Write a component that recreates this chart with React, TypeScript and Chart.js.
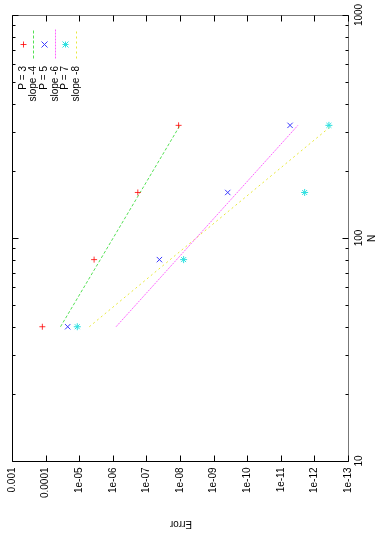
import React, { useEffect, useRef } from "react";
import { Chart, registerables } from "chart.js";

Chart.register(...registerables);

// ---- data ----
const nValues = [40, 80, 160, 320];
const errP3 = [1.25e-4, 3.6e-6, 1.8e-7, 1.1e-8];
const errP5 = [2.2e-5, 4.1e-8, 3.8e-10, 5.3e-12];
const errP7 = [1.14e-5, 7.8e-9, 1.95e-12, 3.7e-13];

const slopeN = [40, 320];
const slope4 = [3.6e-5, 1.0e-8];
const slope6 = [8.0e-7, 3.1e-12];
const slope8 = [5.0e-6, 3.0e-13];

const errorTicks = [1e-3, 1e-4, 1e-5, 1e-6, 1e-7, 1e-8, 1e-9, 1e-10, 1e-11, 1e-12, 1e-13];
const errorTickLabels = ["0.001", "0.0001", "1e-05", "1e-06", "1e-07", "1e-08", "1e-09", "1e-10", "1e-11", "1e-12", "1e-13"];
const nTicks = [10, 100, 1000];
const nTickLabels = ["10", "100", "1000"];
const nMinorTicks = [20, 30, 40, 50, 60, 70, 80, 90, 200, 300, 400, 500, 600, 700, 800, 900];

const legendLabels = ["P = 3", "slope -4", "P = 5", "slope -6", "P = 7", "slope -8"];

const RED = "rgba(255,0,0,0.8)";
const GREEN = "#55e055";
const BLUE = "#3a3aff";
const MAGENTA = "#ff66ff";
const CYAN = "#2ee0e0";
const YELLOW = "#e8e83a";

const FONT = '10px "Liberation Sans", Arial, sans-serif';

const toPts = (xs: number[], ns: number[]) => xs.map((e, i) => ({ x: e, y: ns[i] }));

const axesPlugin = {
  id: "rotatedAxes",
  afterDraw(chart: any) {
    const { ctx, chartArea } = chart;
    const xs = chart.scales.x;
    const ys = chart.scales.y;
    const L = Math.round(chartArea.left) + 0.5;
    const R = Math.round(chartArea.right) + 0.5;
    const T = Math.round(chartArea.top) + 0.5;
    const B = Math.round(chartArea.bottom) + 0.5;
    ctx.save();
    ctx.lineWidth = 1;
    ctx.setLineDash([]);
    // border
    ctx.strokeStyle = "#000";
    ctx.beginPath();
    ctx.moveTo(L, T);
    ctx.lineTo(L, B);
    ctx.lineTo(R, B);
    ctx.stroke();
    ctx.strokeStyle = "#777";
    ctx.beginPath();
    ctx.moveTo(L, T);
    ctx.lineTo(R, T);
    ctx.lineTo(R, B);
    ctx.stroke();

    ctx.strokeStyle = "#000";
    // error ticks (bottom & top)
    errorTicks.forEach((v) => {
      const px = Math.round(xs.getPixelForValue(v)) + 0.5;
      ctx.beginPath();
      ctx.moveTo(px, B);
      ctx.lineTo(px, B - 6);
      ctx.moveTo(px, T);
      ctx.lineTo(px, T + 6);
      ctx.stroke();
    });
    // N ticks (left & right)
    nTicks.forEach((v) => {
      const py = Math.round(ys.getPixelForValue(v)) + 0.5;
      ctx.beginPath();
      ctx.moveTo(L, py);
      ctx.lineTo(L + 6, py);
      ctx.moveTo(R, py);
      ctx.lineTo(R - 6, py);
      ctx.stroke();
    });
    nMinorTicks.forEach((v) => {
      const py = Math.round(ys.getPixelForValue(v)) + 0.5;
      ctx.beginPath();
      ctx.moveTo(L, py);
      ctx.lineTo(L + 3, py);
      ctx.moveTo(R, py);
      ctx.lineTo(R - 3, py);
      ctx.stroke();
    });

    ctx.fillStyle = "#000";
    ctx.font = FONT;
    // error tick labels
    errorTicks.forEach((v, i) => {
      const px = xs.getPixelForValue(v);
      ctx.save();
      ctx.translate(px, B + 6);
      ctx.rotate(-Math.PI / 2);
      ctx.textAlign = "right";
      ctx.textBaseline = "middle";
      ctx.fillText(errorTickLabels[i], 0, 0);
      ctx.restore();
    });
    // N tick labels
    nTicks.forEach((v, i) => {
      const py = ys.getPixelForValue(v);
      ctx.save();
      ctx.translate(R + 11, py);
      ctx.rotate(-Math.PI / 2);
      ctx.textAlign = "center";
      ctx.textBaseline = "middle";
      ctx.fillText(nTickLabels[i], 0, 0);
      ctx.restore();
    });
    // axis titles
    ctx.save();
    ctx.translate(R + 24, (chartArea.top + chartArea.bottom) / 2 + 0.5);
    ctx.rotate(-Math.PI / 2);
    ctx.textAlign = "center";
    ctx.textBaseline = "middle";
    ctx.fillText("N", 0, 0);
    ctx.restore();

    ctx.save();
    ctx.translate(181, B + 62);
    ctx.rotate(Math.PI);
    ctx.textAlign = "center";
    ctx.textBaseline = "middle";
    ctx.fillText("Error", 0, 0);
    ctx.restore();

    // legend
    const ds = chart.data.datasets;
    const x0 = chartArea.left + 10.7;
    const step = 10.65;
    const sampleY = chartArea.top + 28.5;
    ds.forEach((d: any, i: number) => {
      const cx = Math.round(x0 + step * i) + 0.5;
      ctx.save();
      ctx.strokeStyle = d.borderColor;
      ctx.lineWidth = 1;
      if (d.showLine) {
        ctx.setLineDash(d.borderDash || []);
        ctx.beginPath();
        ctx.moveTo(cx, sampleY + 15);
        ctx.lineTo(cx, sampleY - 15);
        ctx.stroke();
      } else {
        const r = 3;
        const cy = Math.round(sampleY) + 0.5;
        ctx.beginPath();
        if (d.pointStyle === "cross" || d.pointStyle === "star") {
          ctx.moveTo(cx - r, cy);
          ctx.lineTo(cx + r, cy);
          ctx.moveTo(cx, cy - r);
          ctx.lineTo(cx, cy + r);
        }
        if (d.pointStyle === "crossRot" || d.pointStyle === "star") {
          ctx.moveTo(cx - r, cy - r);
          ctx.lineTo(cx + r, cy + r);
          ctx.moveTo(cx - r, cy + r);
          ctx.lineTo(cx + r, cy - r);
        }
        ctx.stroke();
      }
      ctx.restore();
      ctx.save();
      ctx.fillStyle = "#000";
      ctx.font = FONT;
      ctx.translate(cx, chartArea.top + 51);
      ctx.rotate(-Math.PI / 2);
      ctx.textAlign = "right";
      ctx.textBaseline = "middle";
      ctx.fillText(legendLabels[i], 0, 0);
      ctx.restore();
    });
    ctx.restore();
  },
};

export default function App() {
  const ref = useRef<HTMLCanvasElement>(null);
  useEffect(() => {
    if (!ref.current) return;
    const pointDs = (label: string, data: number[], color: string, style: string, radius: number) => ({
      label,
      data: toPts(data, nValues),
      showLine: false,
      borderColor: color,
      backgroundColor: color,
      pointStyle: style,
      pointRadius: radius,
      pointBorderWidth: 1,
    });
    const lineDs = (label: string, data: number[], color: string, dash: number[]) => ({
      label,
      data: toPts(data, slopeN),
      showLine: true,
      borderColor: color,
      borderWidth: 1,
      borderDash: dash,
      pointRadius: 0,
      fill: false,
    });
    const chart = new Chart(ref.current, {
      type: "scatter",
      data: {
        datasets: [
          pointDs(legendLabels[0], errP3, RED, "cross", 3),
          lineDs(legendLabels[1], slope4, GREEN, [3, 2]),
          pointDs(legendLabels[2], errP5, BLUE, "crossRot", 3.8),
          lineDs(legendLabels[3], slope6, MAGENTA, [2, 1]),
          pointDs(legendLabels[4], errP7, CYAN, "star", 3.5),
          lineDs(legendLabels[5], slope8, YELLOW, [2, 3]),
        ] as any,
      },
      options: {
        animation: false,
        responsive: false,
        maintainAspectRatio: false,
        layout: { padding: { left: 12, top: 15, right: 34, bottom: 84 } },
        plugins: { legend: { display: false }, tooltip: { enabled: false } },
        scales: {
          x: { type: "logarithmic", reverse: true, min: 1e-13, max: 1e-3, display: false },
          y: { type: "logarithmic", min: 10, max: 1000, display: false },
        },
      },
      plugins: [axesPlugin],
    });
    return () => chart.destroy();
  }, []);
  return (
    <div style={{ position: "fixed", left: 0, top: 0, width: 382, height: 545, background: "#fff" }}>
      <canvas ref={ref} width={382} height={545} style={{ display: "block", width: 382, height: 545 }} />
    </div>
  );
}
